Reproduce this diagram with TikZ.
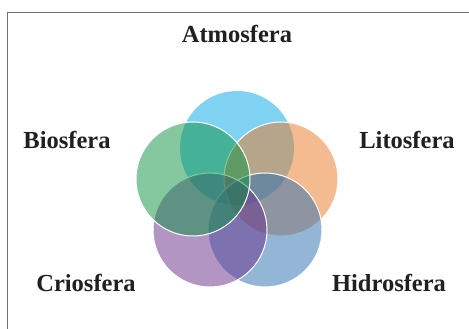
\documentclass[tikz,border=0pt]{standalone}
\usepackage{fontspec}
\setmainfont{Liberation Serif}
\definecolor{atmo}{RGB}{0,167,229}
\definecolor{lito}{RGB}{235,121,37}
\definecolor{hidro}{RGB}{41,111,177}
\definecolor{crio}{RGB}{105,45,139}
\definecolor{bio}{RGB}{13,145,65}
\definecolor{framegray}{RGB}{110,110,110}
\definecolor{labeltext}{RGB}{35,31,32}
\tikzset{
  sphere/.style={circle, minimum size=114pt, inner sep=0pt, fill opacity=0.5, draw=white, draw opacity=1, line width=1pt},
  lbl/.style={anchor=base, font=\fontsize{24.5}{28}\selectfont\bfseries, text=labeltext}
}
\begin{document}
\begin{tikzpicture}[x=1pt,y=-1pt]
\useasboundingbox (0,0) rectangle (469,329);
\clip (0,0) rectangle (469,329);
\fill[white] (0,0) rectangle (469,329);
\draw[framegray, line width=0.9pt] (7,340) -- (7,12) -- (480,12);
\node[sphere, fill=atmo, draw=none] (atm) at (237,148) {};
\node[sphere, fill=lito] (lit) at (281,179) {};
\node[sphere, fill=hidro] (hid) at (265,230) {};
\node[sphere, fill=crio] (cri) at (210,230) {};
\node[sphere, fill=bio] (bio) at (193,179) {};
\node[lbl] (tatm) at (237,43) {Atmosfera};
\node[lbl] (tbio) at (67,148) {Biosfera};
\node[lbl] (tlit) at (407,148) {Litosfera};
\node[lbl] (tcri) at (86,291) {Criosfera};
\node[lbl] (thid) at (389,291) {Hidrosfera};
\end{tikzpicture}
\end{document}
